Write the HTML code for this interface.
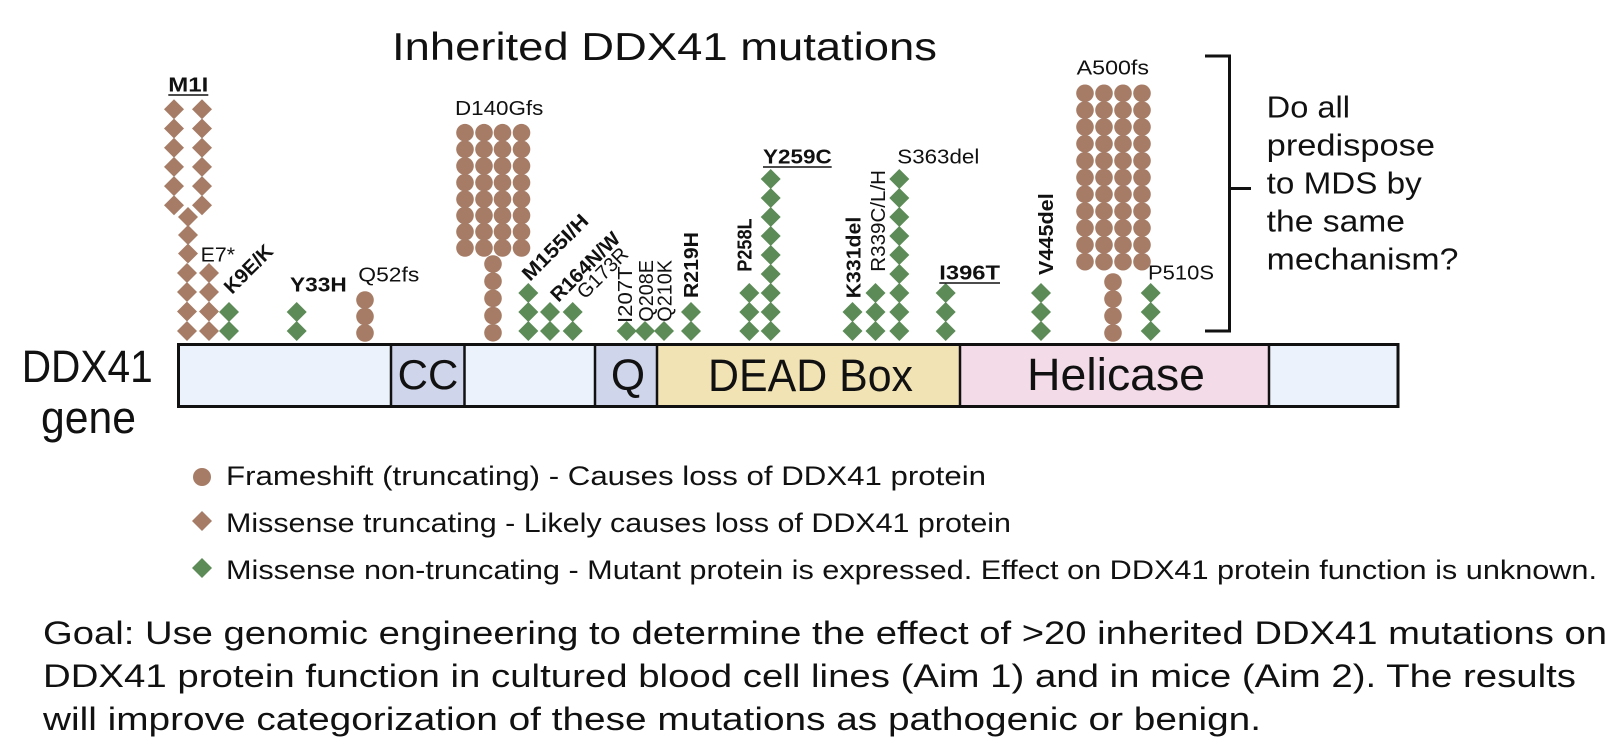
<!DOCTYPE html>
<html>
<head>
<meta charset="utf-8">
<style>
html,body{margin:0;padding:0;background:#fff;}
svg{display:block;}
text{font-family:"Liberation Sans",Arial,sans-serif;fill:#111;}
</style>
</head>
<body>
<svg width="1622" height="756" viewBox="0 0 1622 756" xmlns="http://www.w3.org/2000/svg">
<defs>
<path id="db" d="M0,-10 L10,0 L0,10 L-10,0Z" fill="#a67c66"/>
<path id="dg" d="M0,-10 L10,0 L0,10 L-10,0Z" fill="#5c8b57"/>
<circle id="cb" r="8.8" fill="#a67c66"/>
</defs>
<rect width="1622" height="756" fill="#fff"/>

<!-- Title -->
<text x="392" y="60" font-size="39" textLength="545" lengthAdjust="spacingAndGlyphs">Inherited DDX41 mutations</text>

<!-- DDX41 gene label -->
<text x="21.7" y="382" font-size="45" textLength="131" lengthAdjust="spacingAndGlyphs">DDX41</text>
<text x="41" y="433" font-size="45" textLength="95" lengthAdjust="spacingAndGlyphs">gene</text>

<!-- Bar -->
<rect x="178.5" y="344.5" width="212.5" height="62" fill="#ebf2fb"/>
<rect x="391" y="344.5" width="73.5" height="62" fill="#cfd5ea"/>
<rect x="464.5" y="344.5" width="130.5" height="62" fill="#ebf2fb"/>
<rect x="595" y="344.5" width="62" height="62" fill="#cfd5ea"/>
<rect x="657" y="344.5" width="303" height="62" fill="#f2e3b5"/>
<rect x="960" y="344.5" width="309" height="62" fill="#f3dce8"/>
<rect x="1269" y="344.5" width="129.5" height="62" fill="#ebf2fb"/>
<g stroke="#111" stroke-width="2.5">
<line x1="391" y1="344.5" x2="391" y2="406.5"/>
<line x1="464.5" y1="344.5" x2="464.5" y2="406.5"/>
<line x1="595" y1="344.5" x2="595" y2="406.5"/>
<line x1="657" y1="344.5" x2="657" y2="406.5"/>
<line x1="960" y1="344.5" x2="960" y2="406.5"/>
<line x1="1269" y1="344.5" x2="1269" y2="406.5"/>
</g>
<rect x="178.5" y="344.5" width="1219.5" height="62" fill="none" stroke="#111" stroke-width="3"/>
<text x="428" y="389" font-size="42" text-anchor="middle">CC</text>
<text x="628" y="390" font-size="44" text-anchor="middle">Q</text>
<text x="708" y="391" font-size="45" textLength="205" lengthAdjust="spacingAndGlyphs">DEAD Box</text>
<text x="1027" y="390" font-size="45" textLength="178" lengthAdjust="spacingAndGlyphs">Helicase</text>

<!-- Bracket -->
<path d="M1205,56 H1229.5 V331 H1205" fill="none" stroke="#111" stroke-width="3"/>
<line x1="1229.5" y1="188.5" x2="1251" y2="188.5" stroke="#111" stroke-width="3"/>

<!-- Question text -->
<text x="1266.7" y="117.3" font-size="31" textLength="83.3" lengthAdjust="spacingAndGlyphs">Do all</text>
<text x="1266.7" y="155.3" font-size="31" textLength="168.3" lengthAdjust="spacingAndGlyphs">predispose</text>
<text x="1266.7" y="193.3" font-size="31" textLength="155" lengthAdjust="spacingAndGlyphs">to MDS by</text>
<text x="1266.7" y="231.3" font-size="31" textLength="138.3" lengthAdjust="spacingAndGlyphs">the same</text>
<text x="1266.7" y="269.3" font-size="31" textLength="191.7" lengthAdjust="spacingAndGlyphs">mechanism?</text>

<!-- Brown diamonds (M1I / E7*) -->
<use href="#db" x="174" y="109.3"/><use href="#db" x="202" y="109.3"/>
<use href="#db" x="174" y="128.5"/><use href="#db" x="202" y="128.5"/>
<use href="#db" x="174" y="147.7"/><use href="#db" x="202" y="147.7"/>
<use href="#db" x="174" y="166.9"/><use href="#db" x="202" y="166.9"/>
<use href="#db" x="174" y="186.1"/><use href="#db" x="202" y="186.1"/>
<use href="#db" x="174" y="205.3"/><use href="#db" x="202" y="205.3"/>
<use href="#db" x="188" y="217"/>
<use href="#db" x="188" y="235"/>
<use href="#db" x="188" y="253.5"/>
<use href="#db" x="187" y="273"/><use href="#db" x="209" y="273"/>
<use href="#db" x="187" y="292"/><use href="#db" x="209" y="292"/>
<use href="#db" x="187" y="311.5"/><use href="#db" x="209" y="311.5"/>
<use href="#db" x="187" y="331"/><use href="#db" x="209" y="331"/>

<!-- Green diamonds -->
<use href="#dg" x="229" y="312"/><use href="#dg" x="229" y="331"/>
<use href="#dg" x="296.7" y="312"/><use href="#dg" x="296.7" y="331"/>
<use href="#dg" x="528.3" y="293"/><use href="#dg" x="528.3" y="312"/><use href="#dg" x="528.3" y="331"/>
<use href="#dg" x="550" y="312"/><use href="#dg" x="550" y="331"/>
<use href="#dg" x="572.7" y="312"/><use href="#dg" x="572.7" y="331"/>
<use href="#dg" x="626.7" y="331"/>
<use href="#dg" x="645" y="331"/>
<use href="#dg" x="664" y="331"/>
<use href="#dg" x="691" y="312"/><use href="#dg" x="691" y="331"/>
<use href="#dg" x="749.3" y="293"/><use href="#dg" x="749.3" y="312"/><use href="#dg" x="749.3" y="331"/>
<use href="#dg" x="770.7" y="179"/><use href="#dg" x="770.7" y="198"/><use href="#dg" x="770.7" y="217"/>
<use href="#dg" x="770.7" y="236"/><use href="#dg" x="770.7" y="255"/><use href="#dg" x="770.7" y="274"/>
<use href="#dg" x="770.7" y="293"/><use href="#dg" x="770.7" y="312"/><use href="#dg" x="770.7" y="331"/>
<use href="#dg" x="852.5" y="312"/><use href="#dg" x="852.5" y="331"/>
<use href="#dg" x="875.5" y="293"/><use href="#dg" x="875.5" y="312"/><use href="#dg" x="875.5" y="331"/>
<use href="#dg" x="899.3" y="179"/><use href="#dg" x="899.3" y="198"/><use href="#dg" x="899.3" y="217"/>
<use href="#dg" x="899.3" y="236"/><use href="#dg" x="899.3" y="255"/><use href="#dg" x="899.3" y="274"/>
<use href="#dg" x="899.3" y="293"/><use href="#dg" x="899.3" y="312"/><use href="#dg" x="899.3" y="331"/>
<use href="#dg" x="945.7" y="293"/><use href="#dg" x="945.7" y="312"/><use href="#dg" x="945.7" y="331"/>
<use href="#dg" x="1041" y="293"/><use href="#dg" x="1041" y="312"/><use href="#dg" x="1041" y="331"/>
<use href="#dg" x="1150.7" y="293"/><use href="#dg" x="1150.7" y="312"/><use href="#dg" x="1150.7" y="331"/>

<!-- Circles: Q52fs -->
<use href="#cb" x="365" y="300"/><use href="#cb" x="365" y="316.5"/><use href="#cb" x="365" y="333"/>

<!-- Circles: D140Gfs grid -->
<g>
<use href="#cb" x="465" y="132.7"/><use href="#cb" x="484" y="132.7"/><use href="#cb" x="502.5" y="132.7"/><use href="#cb" x="521.5" y="132.7"/>
<use href="#cb" x="465" y="149.3"/><use href="#cb" x="484" y="149.3"/><use href="#cb" x="502.5" y="149.3"/><use href="#cb" x="521.5" y="149.3"/>
<use href="#cb" x="465" y="166"/><use href="#cb" x="484" y="166"/><use href="#cb" x="502.5" y="166"/><use href="#cb" x="521.5" y="166"/>
<use href="#cb" x="465" y="182.6"/><use href="#cb" x="484" y="182.6"/><use href="#cb" x="502.5" y="182.6"/><use href="#cb" x="521.5" y="182.6"/>
<use href="#cb" x="465" y="199.2"/><use href="#cb" x="484" y="199.2"/><use href="#cb" x="502.5" y="199.2"/><use href="#cb" x="521.5" y="199.2"/>
<use href="#cb" x="465" y="215.5"/><use href="#cb" x="484" y="215.5"/><use href="#cb" x="502.5" y="215.5"/><use href="#cb" x="521.5" y="215.5"/>
<use href="#cb" x="465" y="231.8"/><use href="#cb" x="484" y="231.8"/><use href="#cb" x="502.5" y="231.8"/><use href="#cb" x="521.5" y="231.8"/>
<use href="#cb" x="465" y="248"/><use href="#cb" x="484" y="248"/><use href="#cb" x="502.5" y="248"/><use href="#cb" x="521.5" y="248"/>
<use href="#cb" x="493" y="264"/><use href="#cb" x="493" y="281.2"/><use href="#cb" x="493" y="298.4"/><use href="#cb" x="493" y="315.6"/><use href="#cb" x="493" y="332.8"/>
</g>

<!-- Circles: A500fs grid -->
<g>
<use href="#cb" x="1085" y="93.3"/><use href="#cb" x="1104" y="93.3"/><use href="#cb" x="1123" y="93.3"/><use href="#cb" x="1142" y="93.3"/>
<use href="#cb" x="1085" y="110.1"/><use href="#cb" x="1104" y="110.1"/><use href="#cb" x="1123" y="110.1"/><use href="#cb" x="1142" y="110.1"/>
<use href="#cb" x="1085" y="127"/><use href="#cb" x="1104" y="127"/><use href="#cb" x="1123" y="127"/><use href="#cb" x="1142" y="127"/>
<use href="#cb" x="1085" y="143.8"/><use href="#cb" x="1104" y="143.8"/><use href="#cb" x="1123" y="143.8"/><use href="#cb" x="1142" y="143.8"/>
<use href="#cb" x="1085" y="160.7"/><use href="#cb" x="1104" y="160.7"/><use href="#cb" x="1123" y="160.7"/><use href="#cb" x="1142" y="160.7"/>
<use href="#cb" x="1085" y="177.5"/><use href="#cb" x="1104" y="177.5"/><use href="#cb" x="1123" y="177.5"/><use href="#cb" x="1142" y="177.5"/>
<use href="#cb" x="1085" y="194.3"/><use href="#cb" x="1104" y="194.3"/><use href="#cb" x="1123" y="194.3"/><use href="#cb" x="1142" y="194.3"/>
<use href="#cb" x="1085" y="211.2"/><use href="#cb" x="1104" y="211.2"/><use href="#cb" x="1123" y="211.2"/><use href="#cb" x="1142" y="211.2"/>
<use href="#cb" x="1085" y="228"/><use href="#cb" x="1104" y="228"/><use href="#cb" x="1123" y="228"/><use href="#cb" x="1142" y="228"/>
<use href="#cb" x="1085" y="244.9"/><use href="#cb" x="1104" y="244.9"/><use href="#cb" x="1123" y="244.9"/><use href="#cb" x="1142" y="244.9"/>
<use href="#cb" x="1085" y="261.7"/><use href="#cb" x="1104" y="261.7"/><use href="#cb" x="1123" y="261.7"/><use href="#cb" x="1142" y="261.7"/>
<use href="#cb" x="1113" y="282"/><use href="#cb" x="1113" y="299"/><use href="#cb" x="1113" y="316"/><use href="#cb" x="1113" y="333"/>
</g>

<!-- Horizontal labels -->
<g font-size="20">
<text x="168.3" y="91.7" font-weight="700" textLength="40" lengthAdjust="spacingAndGlyphs">M1I</text>
<line x1="168.3" y1="95" x2="208.3" y2="95" stroke="#111" stroke-width="1.6"/>
<text x="200.7" y="261.7" textLength="34.3" lengthAdjust="spacingAndGlyphs">E7*</text>
<text x="290" y="291.7" font-weight="700" textLength="56.7" lengthAdjust="spacingAndGlyphs">Y33H</text>
<text x="358.3" y="281.7" textLength="61" lengthAdjust="spacingAndGlyphs">Q52fs</text>
<text x="455" y="115" textLength="88.3" lengthAdjust="spacingAndGlyphs">D140Gfs</text>
<text x="763" y="163.3" font-weight="700" textLength="68.7" lengthAdjust="spacingAndGlyphs">Y259C</text>
<line x1="763" y1="167" x2="831.7" y2="167" stroke="#111" stroke-width="1.6"/>
<text x="897.3" y="163.3" textLength="82" lengthAdjust="spacingAndGlyphs">S363del</text>
<text x="939.3" y="279.3" font-weight="700" textLength="60.7" lengthAdjust="spacingAndGlyphs">I396T</text>
<line x1="939.3" y1="283" x2="1000" y2="283" stroke="#111" stroke-width="1.6"/>
<text x="1076.7" y="74.3" textLength="72.3" lengthAdjust="spacingAndGlyphs">A500fs</text>
<text x="1148" y="279.3" textLength="66" lengthAdjust="spacingAndGlyphs">P510S</text>

<!-- -45 rotated -->
<text transform="translate(232,295) rotate(-45)" font-weight="700" textLength="60" lengthAdjust="spacingAndGlyphs">K9E/K</text>
<text transform="translate(530,282) rotate(-45)" font-weight="700" textLength="84.5" lengthAdjust="spacingAndGlyphs">M155I/H</text>
<text transform="translate(558.5,303) rotate(-45)" font-weight="700" textLength="89" lengthAdjust="spacingAndGlyphs">R164N/W</text>
<text transform="translate(585,300) rotate(-45)" textLength="63" lengthAdjust="spacingAndGlyphs">G173R</text>

<!-- -90 rotated -->
<text transform="translate(632,323) rotate(-90)" textLength="56.6" lengthAdjust="spacingAndGlyphs">I207T</text>
<text transform="translate(653,321.7) rotate(-90)" textLength="61.7" lengthAdjust="spacingAndGlyphs">Q208E</text>
<text transform="translate(671.5,321.7) rotate(-90)" textLength="61.7" lengthAdjust="spacingAndGlyphs">Q210K</text>
<text transform="translate(698,298) rotate(-90)" font-weight="700" textLength="66" lengthAdjust="spacingAndGlyphs">R219H</text>
<text transform="translate(751.5,271.7) rotate(-90)" font-weight="700" textLength="53.3" lengthAdjust="spacingAndGlyphs">P258L</text>
<text transform="translate(860.5,298.3) rotate(-90)" font-weight="700" textLength="81.6" lengthAdjust="spacingAndGlyphs">K331del</text>
<text transform="translate(885,271.7) rotate(-90)" textLength="101.7" lengthAdjust="spacingAndGlyphs">R339C/L/H</text>
<text transform="translate(1053,275) rotate(-90)" font-weight="700" textLength="81.7" lengthAdjust="spacingAndGlyphs">V445del</text>
</g>

<!-- Legend -->
<circle cx="202" cy="477" r="9" fill="#a67c66"/>
<path d="M202,511 L212,521 L202,531 L192,521Z" fill="#a67c66"/>
<path d="M202,558 L212,568 L202,578 L192,568Z" fill="#5c8b57"/>
<text x="226" y="485" font-size="27" textLength="760" lengthAdjust="spacingAndGlyphs">Frameshift (truncating) - Causes loss of DDX41 protein</text>
<text x="226" y="532" font-size="27" textLength="785" lengthAdjust="spacingAndGlyphs">Missense truncating - Likely causes loss of DDX41 protein</text>
<text x="226" y="579" font-size="27" textLength="1371" lengthAdjust="spacingAndGlyphs">Missense non-truncating - Mutant protein is expressed. Effect on DDX41 protein function is unknown.</text>

<!-- Goal -->
<text x="43" y="644" font-size="32" textLength="1564" lengthAdjust="spacingAndGlyphs">Goal: Use genomic engineering to determine the effect of &gt;20 inherited DDX41 mutations on</text>
<text x="43" y="687" font-size="32" textLength="1533" lengthAdjust="spacingAndGlyphs">DDX41 protein function in cultured blood cell lines (Aim 1) and in mice (Aim 2). The results</text>
<text x="43" y="730" font-size="32" textLength="1218" lengthAdjust="spacingAndGlyphs">will improve categorization of these mutations as pathogenic or benign.</text>
</svg>
</body>
</html>
